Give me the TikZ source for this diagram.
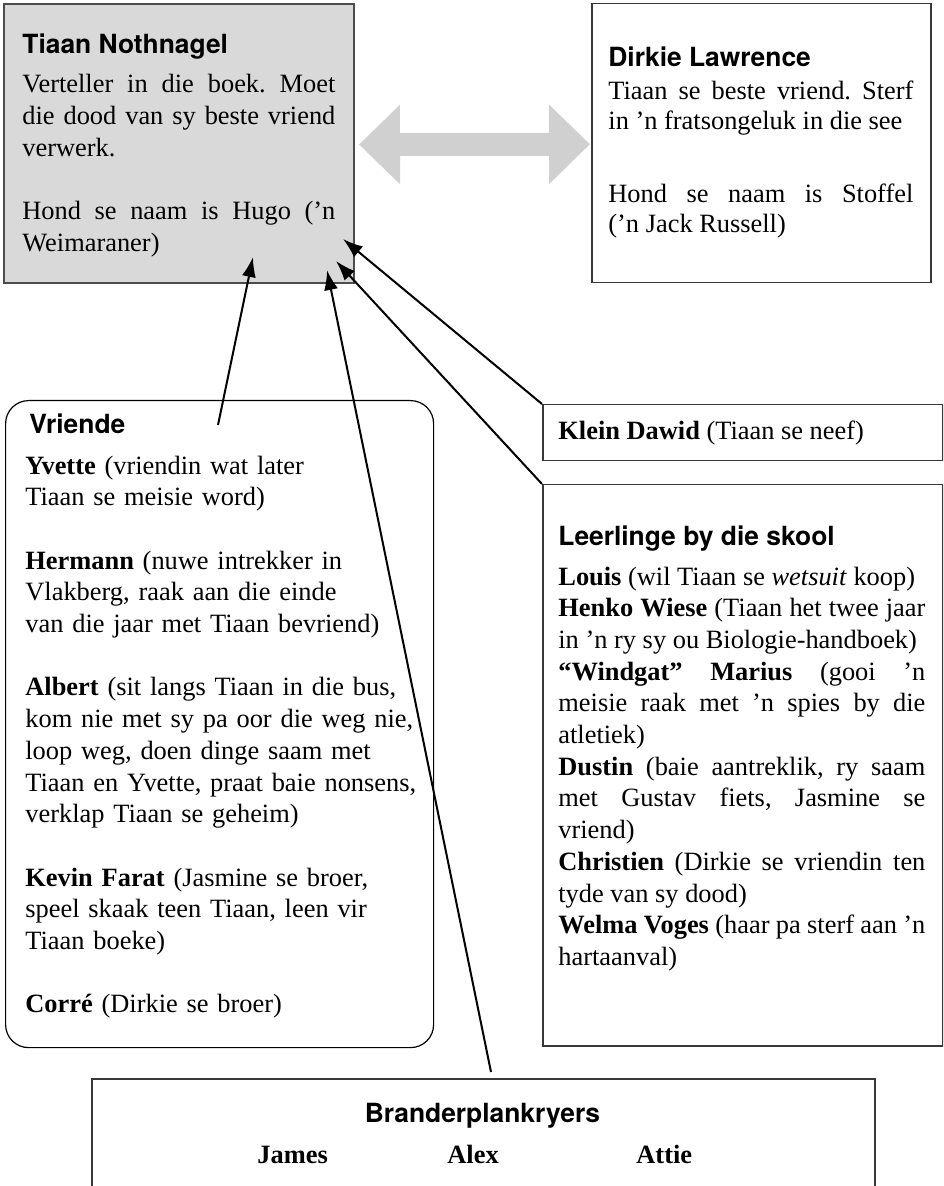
\documentclass[tikz,border=0pt]{standalone}
\usepackage{fontspec}
\setmainfont{Liberation Serif}
\newfontfamily\hv{TeX Gyre Heros}
\usetikzlibrary{arrows.meta}
\definecolor{tgray}{HTML}{D9D9D9}
\definecolor{agray}{HTML}{D0D0D0}
\definecolor{bord}{HTML}{383838}
\begin{document}
\frenchspacing
\begin{tikzpicture}[x=0.5pt,y=-0.5pt,
  box/.style={draw=bord,line width=0.75pt,inner sep=0pt,anchor=north west},
  head/.style={font={\hv\bfseries\fontsize{13.2}{15.85}\selectfont},anchor=base west,inner sep=0pt},
  body/.style={font={\fontsize{13.2}{15.85}\selectfont},anchor=base west,inner sep=0pt},
  tight/.style={font={\fontsize{13.2}{14.6}\selectfont}},
  conn/.style={line width=1pt,-{Latex[length=10pt,width=7pt]}},
  dbl/.style={agray,line width=11.5pt,{Triangle[length=20.5pt,width=38.5pt]}-{Triangle[length=20.5pt,width=38.5pt]}}]
\useasboundingbox (0,0) rectangle (943,1186);
\clip (0,0) rectangle (943,1186);

% boxes
\node[box,fill=tgray,draw=bord!90,line width=1pt,minimum width=175pt,minimum height=139.5pt] (tiaan) at (3,3) {};
\node[box,minimum width=169.5pt,minimum height=139.5pt] (dirkie) at (591,3) {};
\node[box,draw=black,line width=0.6pt,rounded corners=11.5pt,minimum width=214pt,minimum height=323.5pt] (vriende) at (5,400) {};
\node[box,minimum width=200pt,minimum height=28pt] (dawid) at (542,404) {};
\node[box,minimum width=200pt,minimum height=280.5pt] (leer) at (542,484) {};
\node[box,minimum width=391.5pt,minimum height=150pt] (brander) at (91,1078) {};

% Tiaan
\node[head] (tiaanT) at (22,54) {Tiaan Nothnagel};
\node[body,text width=156.5pt,align=justify] (tiaanB) at (22,93)
 {Verteller in die boek. Moet\linebreak die dood van sy beste vriend\linebreak verwerk.\par\mbox{}\par
  Hond se naam is Hugo (’n\linebreak Weimaraner)};

% Dirkie
\node[head] (dirkieT) at (608,67) {Dirkie Lawrence};
\node[body,tight,text width=152.5pt,align=justify] (dirkieB1) at (608,100)
 {Tiaan se beste vriend. Sterf\linebreak in ’n fratsongeluk in die see};
\node[body,tight,text width=152.5pt,align=justify] (dirkieB2) at (608,203)
 {Hond se naam is Stoffel\linebreak (’n Jack Russell)};

% double arrow
\draw[dbl] ([xshift=2pt,yshift=-0.5pt]tiaan.east) -- ([xshift=-0.5pt,yshift=-0.5pt]dirkie.west);

% Vriende
\node[head] (vriendeT) at (29,434) {Vriende};
\node[body,text width=205pt,align=left] (vriendeB) at (25,474)
 {\textbf{Yvette} (vriendin wat later\\ Tiaan se meisie word)\par\mbox{}\par
  \textbf{Hermann} (nuwe intrekker in\\ Vlakberg, raak aan die einde\\ van die jaar met Tiaan bevriend)\par\mbox{}\par
  \textbf{Albert} (sit langs Tiaan in die bus,\\ kom nie met sy pa oor die weg nie,\\ loop weg, doen dinge saam met\\ Tiaan en Yvette, praat baie nonsens,\\ verklap Tiaan se geheim)\par\mbox{}\par
  \textbf{Kevin Farat} (Jasmine se broer,\\ speel skaak teen Tiaan, leen vir\\ Tiaan boeke)\par\mbox{}\par
  \textbf{Corré} (Dirkie se broer)};

% Klein Dawid
\node[body] (dawidT) at (558,440) {\textbf{Klein Dawid} (Tiaan se neef)};

% Leerlinge
\node[head] (leerT) at (558,545) {Leerlinge by die skool};
\node[body,text width=183.5pt,align=justify] (leerB) at (558,585)
 {\textbf{Louis} (wil Tiaan se \textit{wetsuit} koop)\par
  \textbf{Henko Wiese} (Tiaan het twee jaar\linebreak in ’n ry sy ou Biologie-handboek)\par
  \textbf{“Windgat” Marius} (gooi ’n\linebreak meisie raak met ’n spies by die\linebreak atletiek)\par
  \textbf{Dustin} (baie aantreklik, ry saam\linebreak met Gustav fiets, Jasmine se\linebreak vriend)\par
  \textbf{Christien} (Dirkie se vriendin ten\linebreak tyde van sy dood)\par
  \textbf{Welma Voges} (haar pa sterf aan ’n\linebreak hartaanval)};

% Branderplankryers
\node[head,anchor=base] (branderT) at (482.5,1122) {Branderplankryers};
\node[body] (james) at (257,1163) {\textbf{James}};
\node[body] (alex) at (447,1163) {\textbf{Alex}};
\node[body] (attie) at (636,1163) {\textbf{Attie}};

% connectors
\coordinate (t1) at (253,257);
\coordinate (t2) at (327,270);
\coordinate (t3) at (336,261);
\coordinate (t4) at (343,239);
\coordinate (v1) at (218,425);
\coordinate (b1) at (491,1072);
\draw[conn] (v1) -- (t1);
\draw[conn] (b1) -- (t2);
\draw[conn] (leer.north west) -- (t3);
\draw[conn] (dawid.north west) -- (t4);
\end{tikzpicture}
\end{document}
